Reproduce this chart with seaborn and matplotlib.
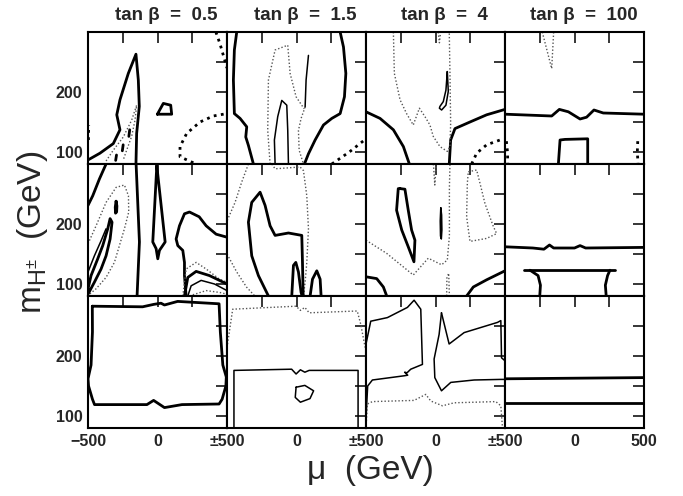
import matplotlib
matplotlib.use("Agg")
import matplotlib.pyplot as plt
import seaborn as sns
import numpy as np

sns.set_style("white")
plt.rcParams['font.family'] = ['Liberation Sans', 'DejaVu Sans']
plt.rcParams['mathtext.default'] = 'regular'

# ---------------- data: contour curves, (mu [GeV], m_H+ [GeV]) ----------------
titles = ["tan β  =  0.5", "tan β  =  1.5", "tan β  =  4", "tan β  =  100"]
x_ticks = [-500, -250, 0, 250, 500]
y_ticks = [100, 150, 200, 250]
y_ticklabels = ["100", "", "200", ""]

# row 1
p00_thick = [(-498, 87), (-414, 98), (-318, 114), (-270, 137), (-293, 162), (-270, 187),
             (-210, 231), (-155, 263), (-138, 220), (-131, 176), (-150, 131), (-155, 80)]
p00_quad = [(-1, 163), (42, 181), (95, 178), (102, 163), (-1, 163)]
p00_dot = [(-370, 85), (-318, 103), (-246, 125), (-186, 153), (-150, 178), (-162, 153),
           (-186, 126), (-222, 103), (-246, 87)]
p00_dash1 = [(-301, 86), (-295, 95)]
p00_dash2 = [(-253, 102), (-247, 112)]
p00_dash3 = [(-206, 126), (-200, 137)]
p00_dk_r = [(258, 82), (162, 92), (162, 109), (210, 131), (306, 150), (401, 160), (498, 164)]
p00_dk_top = [(420, 300), (450, 280), (500, 240)]
p00_dk_l = [(-497, 120), (-495, 145)]

p01_thick_l = [(-430, 300), (-447, 270), (-454, 220), (-447, 164), (-406, 156), (-358, 142),
               (-365, 125), (-346, 111), (-310, 80)]
p01_thick_r = [(314, 300), (338, 275), (355, 231), (345, 192), (314, 164), (254, 156),
               (194, 145), (134, 120), (86, 97), (57, 80)]
p01_thin = [(-154, 80), (-159, 120), (-135, 159), (-106, 186), (-70, 178), (-63, 136), (-58, 80)]
p01_dot_a = [(-190, 80), (-207, 136), (-202, 220), (-154, 270), (-63, 278), (-46, 231),
             (-3, 192), (55, 172)]
p01_thin_v = [(86, 261), (69, 220), (62, 175)]
p01_dot_v = [(62, 175), (33, 156), (14, 136), (19, 103), (50, 80)]
p01_dk = [(254, 80), (380, 100), (500, 122)]

p02_thick_l = [(-500, 167), (-399, 156), (-303, 137), (-267, 123), (-231, 109), (-188, 80)]
p02_thick_r = [(99, 80), (109, 120), (140, 139), (248, 150), (368, 162), (500, 171)]
p02_thin = [(85, 234), (75, 203), (56, 184), (32, 176), (28, 173), (44, 170), (75, 178),
            (92, 201), (85, 234)]
p02_dot = [(-303, 300), (-296, 231), (-255, 187), (-208, 164), (-160, 145), (-116, 173),
           (-76, 159), (-40, 145), (-16, 126), (32, 109), (85, 101), (104, 109), (109, 148),
           (104, 231), (99, 300)]
p02_dot_v = [(20, 300), (28, 282), (37, 300)]
p02_dk = [(260, 80), (296, 98), (368, 112), (464, 120), (500, 121)]

p03_thick = [(-500, 163), (-164, 160), (-109, 171), (-44, 167), (40, 155), (87, 158),
             (140, 170), (207, 165), (500, 163)]
p03_rect = [(-116, 80), (-104, 120), (-68, 121), (95, 122), (95, 80)]
p03_dot_v = [(-232, 300), (-164, 239), (-150, 300)]
p03_dk_l = [(-490, 118), (-482, 100), (-480, 80)]
p03_dk_r = [(455, 118), (452, 100), (457, 80)]

# row 2
p10_thick_c = [(-500, 231), (-466, 247), (-418, 275), (-370, 300)]
p10_dot = [(-500, 167), (-442, 197), (-370, 236), (-298, 261), (-238, 265), (-209, 247),
           (-207, 220), (-238, 192), (-274, 164), (-310, 136), (-370, 111), (-442, 92), (-500, 81)]
p10_thick_loop = [(-500, 92), (-478, 114), (-430, 142), (-394, 164), (-358, 192), (-341, 209),
                  (-327, 203), (-341, 175), (-370, 147), (-406, 125), (-454, 103), (-500, 83)]
p10_thin = [(-500, 120), (-454, 147), (-406, 172), (-370, 192)]
p10_blob = [(-298, 238), (-292, 230), (-294, 220), (-302, 218), (-304, 228), (-298, 238)]
p10_vert = [(-154, 300), (-130, 170), (-147, 80)]
p10_spike = [(-5, 297), (-34, 170), (-10, 159), (2, 142), (14, 156), (55, 170), (-5, 297)]
p10_thick_r = [(206, 80), (194, 114), (194, 136), (182, 156), (146, 164), (134, 175),
               (158, 197), (194, 217), (230, 220), (300, 212), (350, 197), (422, 183), (500, 178)]
p10_n_dot1 = [(182, 80), (206, 125), (278, 136), (350, 125), (446, 108), (500, 103)]
p10_n_th1 = [(194, 80), (218, 111), (278, 121), (374, 114), (500, 100)]
p10_n_th2 = [(218, 80), (242, 97), (314, 106), (410, 100), (500, 89)]
p10_n_dot2 = [(254, 82), (350, 89), (446, 86), (500, 83)]

p11_dot_l1 = [(-346, 300), (-394, 270), (-442, 236), (-500, 205)]
p11_dot_l2 = [(-500, 150), (-430, 120), (-360, 95), (-300, 80)]
p11_dot_r = [(-178, 300), (-154, 292), (26, 295), (50, 289), (74, 247), (86, 192), (74, 136),
             (62, 103), (50, 80)]
p11_thick = [(-202, 80), (-274, 114), (-322, 147), (-346, 203), (-322, 236), (-262, 253),
             (-226, 231), (-190, 197), (-154, 181), (-58, 185), (38, 181), (43, 136), (48, 80)]
p11_spike1 = [(-34, 80), (-22, 131), (-5, 136), (14, 120), (33, 86), (40, 80)]
p11_spike2 = [(98, 80), (115, 108), (146, 122), (170, 108), (177, 80)]

p12_thick = [(-255, 259), (-220, 258), (-196, 223), (-172, 190), (-148, 173), (-155, 137),
             (-196, 162), (-243, 190), (-280, 223), (-268, 259), (-255, 259)]
p12_thin = [(38, 227), (44, 215), (46, 190), (42, 175), (36, 180), (34, 205), (38, 227)]
p12_dot_loop = [(236, 287), (296, 290), (320, 268), (356, 234), (416, 196), (440, 184),
                (368, 176), (248, 171), (224, 212), (229, 268), (236, 287)]
p12_dot_diag = [(-500, 173), (-351, 151), (-160, 115), (-52, 143), (44, 132), (85, 140),
                (100, 180), (100, 260), (104, 300)]
p12_dot_v = [(-15, 300), (-5, 265), (5, 300)]
p12_dot_b = [(80, 80), (82, 110), (95, 118), (100, 80)]
p12_thick_bl = [(-500, 112), (-423, 109), (-375, 95), (-351, 80)]
p12_thick_br = [(224, 80), (272, 95), (368, 107), (500, 122)]

p13_thick = [(-500, 162), (-300, 160), (-220, 158), (-180, 165), (-150, 160), (0, 160),
             (40, 164), (80, 160), (500, 161)]
p13_table = [(-360, 123), (290, 123)]
p13_leg_l = [(-320, 123), (-262, 114), (-245, 98), (-250, 80)]
p13_leg_r = [(255, 123), (238, 114), (222, 98), (228, 80)]

# row 3
p20_rect = [(-469, 283), (-107, 282), (-28, 286), (25, 288), (50, 285), (145, 291), (443, 287),
            (452, 240), (470, 185), (495, 165), (492, 150), (465, 128), (443, 120), (176, 119),
            (50, 114), (-28, 126), (-76, 119), (-453, 119), (-468, 128), (-496, 150),
            (-500, 162), (-478, 185), (-468, 240), (-469, 283)]

p21_dot = [(-500, 214), (-459, 278), (-3, 283), (28, 276), (60, 281), (91, 272), (437, 275),
           (462, 253), (494, 214)]
p21_thick = [(-450, 80), (-450, 176), (-35, 178), (-3, 170), (28, 177), (60, 173), (91, 176),
             (443, 176), (443, 80)]
p21_loop = [(-3, 148), (60, 151), (123, 142), (97, 129), (28, 123), (-9, 131), (-3, 148)]

p22_solid_l = [(-500, 220), (-466, 258), (-346, 264), (-202, 281), (-154, 293), (-106, 278),
               (-94, 186), (-178, 178), (-205, 172), (-222, 173), (-200, 168), (-226, 167),
               (-454, 160), (-488, 150), (-497, 110), (-500, 90)]
p22_solid_r1 = [(43, 272), (26, 236), (-10, 195), (-5, 164), (43, 142), (110, 156), (278, 160),
                (470, 161), (500, 161)]
p22_solid_r2 = [(43, 272), (98, 220), (206, 239), (446, 256), (470, 259), (475, 197), (500, 192)]
p22_dot = [(-500, 80), (-490, 120), (-454, 124), (-154, 126), (-70, 136), (-34, 125), (50, 117),
           (134, 122), (434, 124), (470, 117), (482, 80)]

p23_hi = [(-500, 162), (0, 163), (500, 164)]
p23_lo = [(-500, 122), (500, 122)]

# ---------------- styles ----------------
STY = {
    "thick": dict(color="black", linewidth=2.0, linestyle="-"),
    "thin": dict(color="black", linewidth=1.1, linestyle="-"),
    "dot": dict(color="#555555", linewidth=1.0, linestyle=(0, (1, 1.5))),
    "dk": dict(color="black", linewidth=2.0, linestyle=(0, (1, 1.6))),
}

panels = {
    (0, 0): [(p00_thick, "thick"), (p00_quad, "thick"), (p00_dot, "dot"), (p00_dash1, "thick"),
             (p00_dash2, "thick"), (p00_dash3, "thick"), (p00_dk_r, "dk"), (p00_dk_top, "dk"),
             (p00_dk_l, "dk")],
    (0, 1): [(p01_thick_l, "thick"), (p01_thick_r, "thick"), (p01_thin, "thin"), (p01_dot_a, "dot"),
             (p01_thin_v, "thin"), (p01_dot_v, "dot"), (p01_dk, "dk")],
    (0, 2): [(p02_thick_l, "thick"), (p02_thick_r, "thick"), (p02_thin, "thin"), (p02_dot, "dot"),
             (p02_dot_v, "dot"), (p02_dk, "dk")],
    (0, 3): [(p03_thick, "thick"), (p03_rect, "thick"), (p03_dot_v, "dot"), (p03_dk_l, "dk"),
             (p03_dk_r, "dk")],
    (1, 0): [(p10_thick_c, "thick"), (p10_dot, "dot"), (p10_thick_loop, "thick"), (p10_thin, "thin"),
             (p10_blob, "thick"), (p10_vert, "thick"), (p10_spike, "thick"), (p10_thick_r, "thick"),
             (p10_n_dot1, "dot"), (p10_n_th1, "thick"), (p10_n_th2, "thin"), (p10_n_dot2, "dot")],
    (1, 1): [(p11_dot_l1, "dot"), (p11_dot_l2, "dot"), (p11_dot_r, "dot"), (p11_thick, "thick"),
             (p11_spike1, "thick"), (p11_spike2, "thick")],
    (1, 2): [(p12_thick, "thick"), (p12_thin, "thin"), (p12_dot_loop, "dot"), (p12_dot_diag, "dot"),
             (p12_dot_v, "dot"), (p12_dot_b, "dot"), (p12_thick_bl, "thick"), (p12_thick_br, "thick")],
    (1, 3): [(p13_thick, "thick"), (p13_table, "thick"), (p13_leg_l, "thick"), (p13_leg_r, "thick")],
    (2, 0): [(p20_rect, "thick")],
    (2, 1): [(p21_dot, "dot"), (p21_thick, "thin"), (p21_loop, "thin")],
    (2, 2): [(p22_solid_l, "thin"), (p22_solid_r1, "thin"), (p22_solid_r2, "thin"), (p22_dot, "dot")],
    (2, 3): [(p23_hi, "thick"), (p23_lo, "thick")],
}

# ---------------- figure ----------------
W, H = 683, 496
fig = plt.figure(figsize=(W / 100, H / 100), dpi=100)
left0, top0, pw, ph = 88, 32, 139, 132

for r in range(3):
    for c in range(4):
        ax = fig.add_axes([(left0 + c * pw) / W, 1 - (top0 + (r + 1) * ph) / H, pw / W, ph / H])
        for pts, st in panels[(r, c)]:
            xs = [p[0] for p in pts]
            ys = [p[1] for p in pts]
            sns.lineplot(x=xs, y=ys, sort=False, estimator=None, ax=ax, legend=False,
                         solid_capstyle="round", **STY[st])
        ax.set_xlim(-500, 500)
        ax.set_ylim(80, 300)
        ax.set_xticks(x_ticks)
        ax.set_yticks(y_ticks)
        ax.tick_params(direction="in", length=8, width=1.3, top=True, right=True,
                       labelsize=11.5, pad=4)
        for s in ax.spines.values():
            s.set_linewidth(1.5)
            s.set_color("black")
        if c == 0:
            ax.set_yticklabels(y_ticklabels, fontweight="bold")
        else:
            ax.set_yticklabels([])
        if r == 2:
            first = "−500" if c == 0 else "±500"
            last = "500" if c == 3 else ""
            ax.set_xticklabels([first, "", "0", "", last], fontweight="bold")
        else:
            ax.set_xticklabels([])
        ax.set_xlabel("")
        ax.set_ylabel("")
    
for c in range(4):
    fig.text((left0 + c * pw + pw / 2 + 9) / W, 1 - 15 / H, titles[c], ha="center", va="center",
             fontsize=13.5, fontweight="bold")

fig.text(32 / W, 1 - 232 / H, r"m$_{H^{\pm}}$  (GeV)", rotation=90, ha="center", va="center",
         fontsize=24)
fig.text(370 / W, 1 - 471 / H, "μ  (GeV)", ha="center", va="center", fontsize=24)

fig.savefig("out.png", dpi=100)
